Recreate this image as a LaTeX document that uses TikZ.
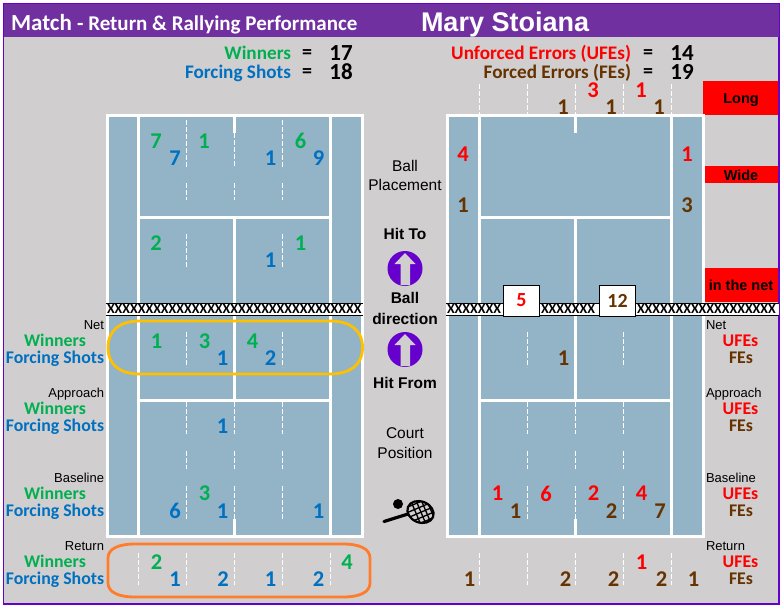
\documentclass[tikz,border=0pt]{standalone}
\usepackage{fontspec}
\setmainfont{Carlito}
\newfontfamily\arialf{Liberation Sans}
\usepackage{xcolor}

\definecolor{pagegray}{HTML}{D0CECE}
\definecolor{titlepurple}{HTML}{7030A0}
\definecolor{framepurple}{HTML}{6600CC}
\definecolor{courtblue}{HTML}{93B3C7}
\definecolor{wingreen}{HTML}{00B050}
\definecolor{forceblue}{HTML}{0070C0}
\definecolor{febrown}{HTML}{663300}
\definecolor{netyellow}{HTML}{FFC000}
\definecolor{retorange}{HTML}{FF7C2A}

\newcommand{\fs}[1]{\fontsize{#1}{#1}\selectfont}

\tikzset{
  every node/.style={inner sep=0pt, outer sep=0pt},
  courtline/.style={draw=white, line width=3pt},
  dashline/.style={draw=white, line width=0.8pt, dash pattern=on 5pt off 2pt},
  win/.style={text=wingreen, font=\fs{22.5}\bfseries},
  force/.style={text=forceblue, font=\fs{22.5}\bfseries},
  ufe/.style={text=red, font=\fs{22.5}\bfseries},
  fe/.style={text=febrown, font=\fs{22.5}\bfseries},
  sumlabel/.style={anchor=east, font=\fs{19.2}\bfseries, text height=13pt, text depth=0pt},
  sumvalue/.style={font=\fs{23}\bfseries},
  sidelabel/.style={font=\fs{17.8}\bfseries, text height=11.5pt, text depth=0pt},
  poslabel/.style={font=\arialf\fs{13}, text height=10pt, text depth=0pt},
  midlabel/.style={font=\arialf\fs{15.5}, text height=11pt, text depth=0pt},
  midbold/.style={font=\arialf\fs{15.5}\bfseries, text height=11pt, text depth=0pt},
  faultlabel/.style={font=\arialf\fs{14.5}\bfseries, text height=10pt, text depth=0pt},
  netxs/.style={anchor=west, font=\fs{14}\bfseries},
}

\begin{document}
\begin{tikzpicture}[x=1pt, y=-1pt]
  \useasboundingbox (0, 0) rectangle (784, 608);

  % Page and title bar
  \fill[white] (0, 0) rectangle (784, 608);
  \draw[draw=framepurple, fill=pagegray, line width=1.5pt] (3.5, 3.5) rectangle (779, 604);
  \fill[titlepurple] (3.5, 3.5) rectangle (779, 37);
  \node[anchor=base west, text=white] (titleMatch) at (11, 30)
     {\fs{23}\bfseries Match \fs{21}- Return \& Rallying Performance};
  \node[anchor=base west, text=white, font=\arialf\fs{27}\bfseries] (titleName) at (421, 31) {Mary Stoiana};

  % Totals
  \node[sumlabel, text=wingreen] (sumWin) at (291, 53) {Winners};
  \node[sumlabel, text=forceblue] (sumForce) at (291, 72) {Forcing Shots};
  \node[font=\fs{20}\bfseries] (eqWin) at (307, 54) {=};
  \node[font=\fs{20}\bfseries] (eqForce) at (307, 73) {=};
  \node[sumvalue] (valWin) at (341, 53) {17};
  \node[sumvalue] (valForce) at (341, 72) {18};
  \node[sumlabel, text=red] (sumUfe) at (631, 53) {Unforced Errors (UFEs)};
  \node[sumlabel, text=febrown] (sumFe) at (631, 72) {Forced Errors (FEs)};
  \node[font=\fs{20}\bfseries] (eqUfe) at (648, 54) {=};
  \node[font=\fs{20}\bfseries] (eqFe) at (648, 73) {=};
  \node[sumvalue] (valUfe) at (682, 53) {14};
  \node[sumvalue] (valFe) at (682, 72) {19};

  % Fault boxes
  \fill[red] (703, 81) rectangle (778, 115);
  \fill[red] (705, 166) rectangle (778, 183);
  \fill[red] (705, 268) rectangle (778, 302);
  \node[faultlabel] (faultLong) at (741, 98) {Long};
  \node[faultlabel] (faultWide) at (741, 175) {Wide};
  \node[faultlabel] (faultNet) at (741, 285) {in the net};

  % Left court
  \fill[courtblue] (107, 115.5) rectangle (362.5, 536.5);
  \draw[courtline] (107, 115.5) rectangle (362.5, 536.5);
  \draw[courtline] (138.5, 115.5) -- (138.5, 536.5);
  \draw[courtline] (330.5, 115.5) -- (330.5, 536.5);
  \draw[courtline] (138.5, 217.5) -- (330.5, 217.5);
  \draw[courtline] (138.5, 400) -- (330.5, 400);
  \draw[courtline] (234.5, 217.5) -- (234.5, 400);
  \draw[courtline] (234.5, 115.5) -- (234.5, 133);
  \draw[courtline] (234.5, 519) -- (234.5, 536.5);

  % Right court
  \fill[courtblue] (447.5, 115.5) rectangle (703, 536.5);
  \draw[courtline] (447.5, 115.5) rectangle (703, 536.5);
  \draw[courtline] (479.5, 115.5) -- (479.5, 536.5);
  \draw[courtline] (671.5, 115.5) -- (671.5, 536.5);
  \draw[courtline] (479.5, 217.5) -- (671.5, 217.5);
  \draw[courtline] (479.5, 400) -- (671.5, 400);
  \draw[courtline] (575.5, 217.5) -- (575.5, 400);
  \draw[courtline] (575.5, 115.5) -- (575.5, 133);
  \draw[courtline] (575.5, 519) -- (575.5, 536.5);

  % Left court dashes
  \draw[dashline] (186.5, 120) -- (186.5, 167);
  \draw[dashline] (234.5, 133) -- (234.5, 167);
  \draw[dashline] (282.5, 120) -- (282.5, 167);
  \draw[dashline] (186.5, 183) -- (186.5, 200);
  \draw[dashline] (234.5, 183) -- (234.5, 200);
  \draw[dashline] (282.5, 183) -- (282.5, 200);
  \draw[dashline] (186.5, 234) -- (186.5, 267);
  \draw[dashline] (282.5, 234) -- (282.5, 267);
  \draw[dashline] (186.5, 332) -- (186.5, 367);
  \draw[dashline] (282.5, 332) -- (282.5, 367);
  \draw[dashline] (186.5, 402) -- (186.5, 434);
  \draw[dashline] (234.5, 402) -- (234.5, 434);
  \draw[dashline] (282.5, 402) -- (282.5, 434);
  \draw[dashline] (186.5, 451) -- (186.5, 469);
  \draw[dashline] (234.5, 451) -- (234.5, 469);
  \draw[dashline] (282.5, 451) -- (282.5, 469);
  \draw[dashline] (186.5, 486) -- (186.5, 519);
  \draw[dashline] (234.5, 486) -- (234.5, 519);
  \draw[dashline] (282.5, 486) -- (282.5, 519);
  \draw[dashline] (138.5, 553) -- (138.5, 585);
  \draw[dashline] (186.5, 553) -- (186.5, 585);
  \draw[dashline] (234.5, 553) -- (234.5, 585);
  \draw[dashline] (282.5, 553) -- (282.5, 585);
  \draw[dashline] (330.5, 553) -- (330.5, 585);

  % Right court dashes
  \draw[dashline] (479.5, 84) -- (479.5, 114);
  \draw[dashline] (527.5, 84) -- (527.5, 114);
  \draw[dashline] (575.5, 84) -- (575.5, 114);
  \draw[dashline] (623.5, 84) -- (623.5, 114);
  \draw[dashline] (671.5, 84) -- (671.5, 114);
  \draw[dashline] (527.5, 332) -- (527.5, 367);
  \draw[dashline] (623.5, 332) -- (623.5, 367);
  \draw[dashline] (527.5, 402) -- (527.5, 434);
  \draw[dashline] (575.5, 402) -- (575.5, 434);
  \draw[dashline] (623.5, 402) -- (623.5, 434);
  \draw[dashline] (527.5, 451) -- (527.5, 469);
  \draw[dashline] (575.5, 451) -- (575.5, 469);
  \draw[dashline] (623.5, 451) -- (623.5, 469);
  \draw[dashline] (527.5, 486) -- (527.5, 519);
  \draw[dashline] (575.5, 486) -- (575.5, 519);
  \draw[dashline] (623.5, 486) -- (623.5, 519);
  \draw[dashline] (479.5, 553) -- (479.5, 585);
  \draw[dashline] (527.5, 553) -- (527.5, 585);
  \draw[dashline] (575.5, 553) -- (575.5, 585);
  \draw[dashline] (623.5, 553) -- (623.5, 585);
  \draw[dashline] (671.5, 553) -- (671.5, 585);

  % Nets
  \fill[white] (106, 303) rectangle (363, 315);
  \node[netxs] (netLeft) at (107, 309) {XXXXXXXXXXXXXXXXXXXXXXXXXXXXXXXXX};
  \draw[black, line width=1pt] (106, 303) -- (363, 303);
  \draw[black, line width=1pt] (106, 315) -- (363, 315);
  \fill[white] (446, 303) rectangle (778.5, 315);
  \node[netxs] (netRightA) at (447, 309) {XXXXXXX};
  \node[netxs] (netRightB) at (541, 309) {XXXXXXX};
  \node[netxs] (netRightC) at (637, 309) {XXXXXXXXXXXXXXXXXX};
  \draw[black, line width=1pt] (446, 303) -- (778.5, 303);
  \draw[black, line width=1pt] (446, 315) -- (778.5, 315);

  % Net boxes
  \node[draw=black, fill=white, line width=0.8pt, minimum width=36pt, minimum height=31pt, text=red, font=\fs{20}\bfseries]
     (netFive) at (521.5, 300.5) {5};
  \node[draw=black, fill=white, line width=0.8pt, minimum width=36pt, minimum height=31pt, text=febrown, font=\fs{20}\bfseries]
     (netTwelve) at (617.5, 300.5) {12};

  % Middle column
  \node[midlabel] (midBall) at (405, 165.5) {Ball};
  \node[midlabel] (midPlace) at (405, 185) {Placement};
  \node[midbold] (midTo) at (405, 234) {Hit To};
  \node[midbold] (midDirA) at (405, 298) {Ball};
  \node[midbold] (midDirB) at (405, 319) {direction};
  \node[midbold] (midFrom) at (405, 383) {Hit From};
  \node[midlabel] (midCourt) at (405, 433) {Court};
  \node[midlabel] (midPos) at (405, 453) {Position};

  % Direction arrows
  \begin{scope}
    \clip (380, 250) rectangle (430, 285);
    \fill[framepurple] (405, 268.5) circle (17.5);
  \end{scope}
  \fill[pagegray] (405, 253) -- (415.5, 264) -- (410, 264) -- (410, 285) -- (400.5, 285) -- (400.5, 264) -- (394.5, 264) -- cycle;
  \begin{scope}
    \clip (380, 330) rectangle (430, 366);
    \fill[framepurple] (405, 349.5) circle (17.5);
  \end{scope}
  \fill[pagegray] (405, 334) -- (415.5, 345) -- (410, 345) -- (410, 366) -- (400.5, 366) -- (400.5, 345) -- (394.5, 345) -- cycle;

  % Racket and ball
  \fill[black] (398, 504) circle (5);
  \draw[black, line width=3.2pt, line cap=round] (384, 521.5) -- (408, 514);
  \begin{scope}[rotate around={-22:(420.5, 512)}]
    \begin{scope}
      \clip (420.5, 512) ellipse (13.5 and 10.5);
      \fill[pagegray] (405, 500) rectangle (436, 524);
      \draw[black, line width=1.3pt] (405, 507) -- (423, 489);
      \draw[black, line width=1.3pt] (405, 514) -- (430, 489);
      \draw[black, line width=1.3pt] (405, 521) -- (437, 489);
      \draw[black, line width=1.3pt] (411, 522) -- (437, 496);
      \draw[black, line width=1.3pt] (418, 522) -- (437, 503);
      \draw[black, line width=1.3pt] (425, 522) -- (437, 510);
      \draw[black, line width=1.3pt] (405, 503) -- (424, 522);
      \draw[black, line width=1.3pt] (405, 496) -- (431, 522);
      \draw[black, line width=1.3pt] (405, 489) -- (438, 522);
      \draw[black, line width=1.3pt] (412, 489) -- (445, 522);
      \draw[black, line width=1.3pt] (419, 489) -- (452, 522);
    \end{scope}
    \draw[black, line width=2.2pt] (420.5, 512) ellipse (13.5 and 10.5);
  \end{scope}

  % Left position labels
  \node[poslabel, anchor=east] (lNet) at (104, 324) {Net};
  \node[sidelabel, text=wingreen] (lNetW) at (55, 341) {Winners};
  \node[sidelabel, text=forceblue] (lNetF) at (55, 358) {Forcing Shots};
  \node[poslabel, anchor=east] (lApp) at (104, 392.5) {Approach};
  \node[sidelabel, text=wingreen] (lAppW) at (55, 409) {Winners};
  \node[sidelabel, text=forceblue] (lAppF) at (55, 426) {Forcing Shots};
  \node[poslabel, anchor=east] (lBase) at (104, 477) {Baseline};
  \node[sidelabel, text=wingreen] (lBaseW) at (55, 494) {Winners};
  \node[sidelabel, text=forceblue] (lBaseF) at (55, 511) {Forcing Shots};
  \node[poslabel, anchor=east] (lRet) at (104, 545) {Return};
  \node[sidelabel, text=wingreen] (lRetW) at (55, 562) {Winners};
  \node[sidelabel, text=forceblue] (lRetF) at (55, 579) {Forcing Shots};

  % Right position labels
  \node[poslabel, anchor=west] (rNet) at (706, 324) {Net};
  \node[sidelabel, text=red] (rNetU) at (740.5, 341) {UFEs};
  \node[sidelabel, text=febrown] (rNetF) at (741, 358) {FEs};
  \node[poslabel, anchor=west] (rApp) at (706, 392.5) {Approach};
  \node[sidelabel, text=red] (rAppU) at (740.5, 409) {UFEs};
  \node[sidelabel, text=febrown] (rAppF) at (741, 426) {FEs};
  \node[poslabel, anchor=west] (rBase) at (706, 477) {Baseline};
  \node[sidelabel, text=red] (rBaseU) at (740.5, 494) {UFEs};
  \node[sidelabel, text=febrown] (rBaseF) at (741, 511) {FEs};
  \node[poslabel, anchor=west] (rRet) at (706, 545) {Return};
  \node[sidelabel, text=red] (rRetU) at (740.5, 562) {UFEs};
  \node[sidelabel, text=febrown] (rRetF) at (741, 579) {FEs};

  % Left court counts
  \node[win] (a1) at (156, 141) {7};
  \node[force] (a2) at (175, 158) {7};
  \node[win] (a3) at (204, 141) {1};
  \node[force] (a4) at (270.5, 158) {1};
  \node[win] (a5) at (300.5, 141) {6};
  \node[force] (a6) at (318.5, 158) {9};
  \node[win] (a7) at (156, 243) {2};
  \node[win] (a8) at (300.5, 243) {1};
  \node[force] (a9) at (270.5, 260) {1};
  \node[win] (b1) at (156.5, 341) {1};
  \node[win] (b2) at (204.5, 341) {3};
  \node[force] (b3) at (222.5, 358) {1};
  \node[win] (b4) at (252.5, 341) {4};
  \node[force] (b5) at (270.5, 358) {2};
  \node[force] (b6) at (222.5, 426) {1};
  \node[win] (c1) at (204.5, 493.5) {3};
  \node[force] (c2) at (175, 511) {6};
  \node[force] (c3) at (222.5, 511) {1};
  \node[force] (c4) at (318.5, 511) {1};
  \node[win] (d1) at (156.5, 562) {2};
  \node[win] (d2) at (347, 562) {4};
  \node[force] (d3) at (175, 579) {1};
  \node[force] (d4) at (223, 579) {2};
  \node[force] (d5) at (270.5, 579) {1};
  \node[force] (d6) at (318.5, 579) {2};

  % Right court counts
  \node[ufe] (e1) at (593, 90) {3};
  \node[ufe] (e2) at (641, 90) {1};
  \node[fe] (e3) at (563, 107) {1};
  \node[fe] (e4) at (611, 107) {1};
  \node[fe] (e5) at (659, 107) {1};
  \node[ufe] (e6) at (463, 154) {4};
  \node[ufe] (e7) at (687, 154) {1};
  \node[fe] (e8) at (463, 205) {1};
  \node[fe] (e9) at (687, 205) {3};
  \node[fe] (f1) at (563.5, 358) {1};
  \node[ufe] (g1) at (497.5, 493.5) {1};
  \node[ufe] (g2) at (546, 493.5) {6};
  \node[ufe] (g3) at (593.5, 493.5) {2};
  \node[ufe] (g4) at (641.5, 493.5) {4};
  \node[fe] (g5) at (515.5, 511) {1};
  \node[fe] (g6) at (611.5, 511) {2};
  \node[fe] (g7) at (660, 511) {7};
  \node[ufe] (h1) at (641.5, 562) {1};
  \node[fe] (h2) at (469.5, 579) {1};
  \node[fe] (h3) at (565.5, 579) {2};
  \node[fe] (h4) at (613.5, 579) {2};
  \node[fe] (h5) at (661.5, 579) {2};
  \node[fe] (h6) at (693.5, 579) {1};

  % Highlight rings
  \draw[netyellow, line width=2.8pt] (108, 347.5) .. controls (108, 330) and (120, 321) .. (140, 321) -- (330, 321)
     .. controls (350, 321) and (362.5, 330) .. (362.5, 347.5) .. controls (362.5, 365) and (350, 374) .. (330, 374)
     -- (140, 374) .. controls (120, 374) and (108, 365) .. (108, 347.5) -- cycle;
  \draw[retorange, line width=2.8pt] (108, 558) .. controls (108, 549) and (118, 544) .. (135, 544) -- (343, 544)
     .. controls (360, 544) and (370, 549) .. (370, 558) -- (370, 583) .. controls (370, 592) and (360, 597) .. (343, 597)
     -- (135, 597) .. controls (118, 597) and (108, 592) .. (108, 583) -- cycle;
\end{tikzpicture}
\end{document}
